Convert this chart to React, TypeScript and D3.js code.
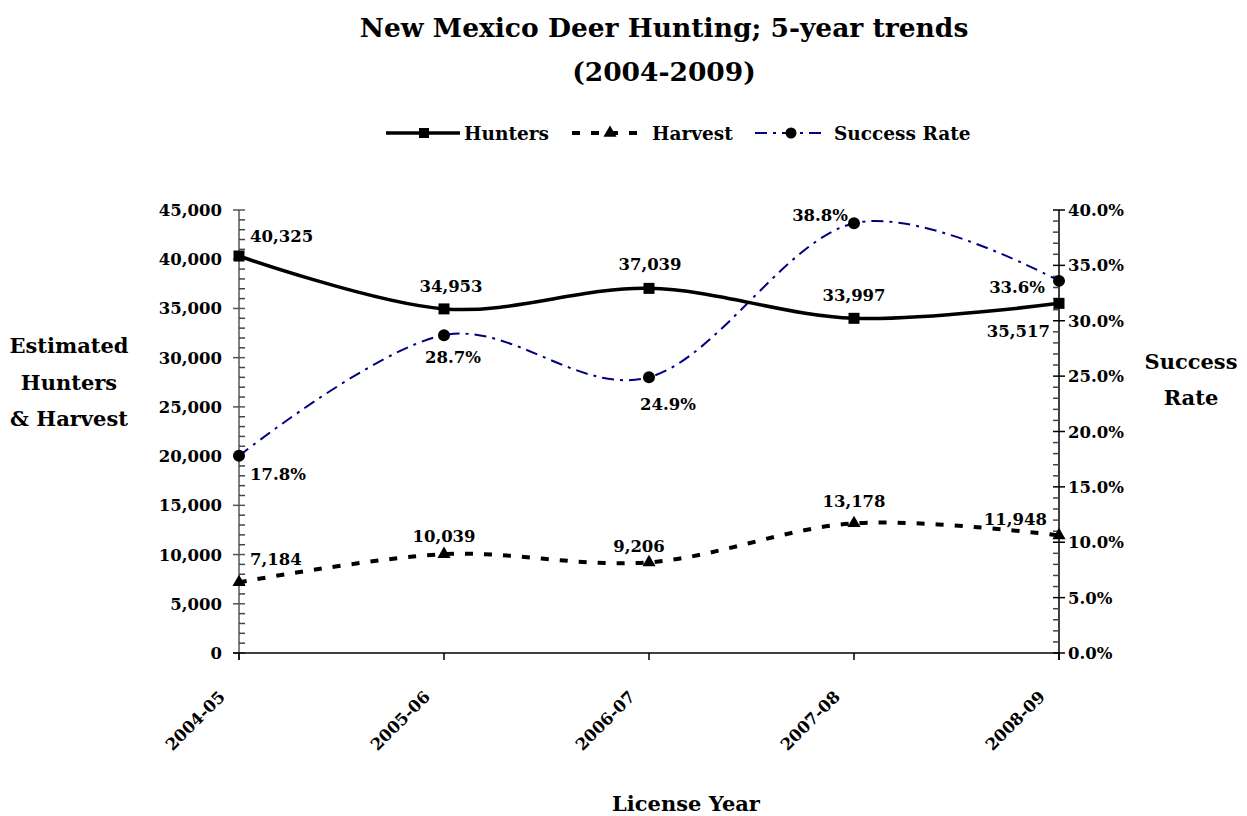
import React from "react";
import * as d3 from "d3";

const categories = ["2004-05", "2005-06", "2006-07", "2007-08", "2008-09"];
const hunters = [40325, 34953, 37039, 33997, 35517];
const harvest = [7184, 10039, 9206, 13178, 11948];
const successRate = [17.8, 28.7, 24.9, 38.8, 33.6];
const leftTicks = [0, 5000, 10000, 15000, 20000, 25000, 30000, 35000, 40000, 45000];
const rightTicks = [0, 5, 10, 15, 20, 25, 30, 35, 40];

// label offsets (layout, not data): dx, dy, anchor
const hunterLabelOff: [number, number, string][] = [
  [11, -14, "start"], [7, -17, "middle"], [1, -18, "middle"], [0, -17, "middle"], [-9, 34, "end"],
];
const harvestLabelOff: [number, number, string][] = [
  [11, -17, "start"], [0, -12, "middle"], [-10, -10, "middle"], [0, -16, "middle"], [-12, -10, "end"],
];
const successLabelOff: [number, number, string][] = [
  [11, 24, "start"], [9, 28, "middle"], [19, 33, "middle"], [-6, -2, "end"], [-14, 12, "end"],
];

const FONT = "'DejaVu Serif', 'Liberation Serif', serif";

export default function App() {
  const W = 1247, H = 816;
  const x0 = 239, x1 = 1059, yB = 653, yT = 210;
  const x = d3.scalePoint<string>().domain(categories).range([x0, x1]);
  const yL = d3.scaleLinear().domain([0, 45000]).range([yB, yT]);
  const yR = d3.scaleLinear().domain([0, 40]).range([yB, yT]);
  const fmt = d3.format(",");
  const line = (ys: number[], sc: d3.ScaleLinear<number, number>) =>
    d3.line<number>()
      .x((_, i) => x(categories[i])!)
      .y((v) => sc(v))
      .curve(d3.curveCardinal.tension(0))(ys) || "";

  const leftMinor = d3.range(0, 45001, 1000).filter((v) => v % 5000 !== 0);
  const rightMinor = d3.range(0, 40.01, 1).filter((v) => v % 5 !== 0);
  const tri = d3.symbol().type(d3.symbolTriangle).size(75)() || "";

  const tickFs = 16.5;
  const labelFs = 16.5;

  return (
    <svg width={W} height={H} style={{ position: "absolute", left: 0, top: 0, background: "#fff" }} fontFamily={FONT}>
      <rect width={W} height={H} fill="#fff" />
      {/* title */}
      <text x={664} y={37} textAnchor="middle" fontSize={26.5} fontWeight="bold">New Mexico Deer Hunting; 5-year trends</text>
      <text x={664} y={81} textAnchor="middle" fontSize={26.5} fontWeight="bold">(2004-2009)</text>

      {/* legend */}
      <g fontSize={18.5} fontWeight="bold">
        <line x1={386} x2={460} y1={133} y2={133} stroke="#000" strokeWidth={3.5} />
        <rect x={419} y={128} width={10} height={10} fill="#000" />
        <text x={464} y={140}>Hunters</text>
        <line x1={572} x2={647} y1={133} y2={133} stroke="#000" strokeWidth={4} strokeDasharray="8,11" />
        <path d={tri} transform={`translate(610,133)`} fill="#000" />
        <text x={652} y={140}>Harvest</text>
        <line x1={755} x2={822} y1={133} y2={133} stroke="#000080" strokeWidth={2} strokeDasharray="12,6,3,6" />
        <circle cx={791} cy={133} r={5.5} fill="#000" />
        <text x={834} y={140}>Success Rate</text>
      </g>

      {/* left axis */}
      <line x1={x0} x2={x0} y1={yT} y2={yB + 7} stroke="#808080" strokeWidth={2} />
      {leftTicks.map((t) => (
        <g key={"l" + t}>
          <line x1={x0 - 6} x2={x0 + 6} y1={yL(t)} y2={yL(t)} stroke="#555" strokeWidth={1.5} />
          <text x={222} y={yL(t) + 6} textAnchor="end" fontSize={tickFs} fontWeight="bold">{fmt(t)}</text>
        </g>
      ))}
      {leftMinor.map((t) => (
        <line key={"lm" + t} x1={x0} x2={x0 + 6} y1={yL(t)} y2={yL(t)} stroke="#444" strokeWidth={1.5} />
      ))}

      {/* right axis */}
      <line x1={x1} x2={x1} y1={yT} y2={yB + 7} stroke="#000" strokeWidth={1.5} />
      {rightTicks.map((t) => (
        <g key={"r" + t}>
          <line x1={x1 - 6} x2={x1 + 6} y1={yR(t)} y2={yR(t)} stroke="#000" strokeWidth={1.5} />
          <text x={1068} y={yR(t) + 6} textAnchor="start" fontSize={tickFs} fontWeight="bold">{t.toFixed(1) + "%"}</text>
        </g>
      ))}
      {rightMinor.map((t) => (
        <line key={"rm" + t} x1={x1 - 6} x2={x1} y1={yR(t)} y2={yR(t)} stroke="#444" strokeWidth={1.5} />
      ))}

      {/* x axis */}
      <line x1={x0 - 6} x2={x1} y1={yB} y2={yB} stroke="#000" strokeWidth={1.5} />
      {categories.map((c) => (
        <g key={c}>
          <line x1={x(c)} x2={x(c)} y1={yB} y2={yB + 7} stroke="#000" strokeWidth={1.5} />
          <text
            transform={`translate(${x(c)! - 13},${yB + 45}) rotate(-45)`}
            textAnchor="end"
            fontSize={tickFs}
            fontWeight="bold"
          >{c}</text>
        </g>
      ))}

      {/* axis titles */}
      <g fontSize={21} fontWeight="bold" textAnchor="middle">
        <text x={69} y={353}>Estimated</text>
        <text x={69} y={390}>Hunters</text>
        <text x={69} y={426}>&amp; Harvest</text>
        <text x={1191} y={369}>Success</text>
        <text x={1191} y={405}>Rate</text>
        <text x={686} y={811}>License Year</text>
      </g>

      {/* series */}
      <path d={line(successRate, yR)} fill="none" stroke="#000080" strokeWidth={2} strokeDasharray="12,6,3,6" />
      <path d={line(harvest, yL)} fill="none" stroke="#000" strokeWidth={4} strokeDasharray="8,11" />
      <path d={line(hunters, yL)} fill="none" stroke="#000" strokeWidth={3.5} />

      {hunters.map((v, i) => (
        <rect key={"hs" + i} x={x(categories[i])! - 5.5} y={yL(v) - 5.5} width={11} height={11} fill="#000" />
      ))}
      {harvest.map((v, i) => (
        <path key={"hv" + i} d={tri} transform={`translate(${x(categories[i])},${yL(v)})`} fill="#000" />
      ))}
      {successRate.map((v, i) => (
        <circle key={"sr" + i} cx={x(categories[i])} cy={yR(v)} r={6} fill="#000" />
      ))}

      {/* data labels */}
      <g fontSize={labelFs} fontWeight="bold">
        {hunters.map((v, i) => (
          <text key={"hl" + i} x={x(categories[i])! + hunterLabelOff[i][0]} y={yL(v) + hunterLabelOff[i][1]}
            textAnchor={hunterLabelOff[i][2]}>{fmt(v)}</text>
        ))}
        {harvest.map((v, i) => (
          <text key={"vl" + i} x={x(categories[i])! + harvestLabelOff[i][0]} y={yL(v) + harvestLabelOff[i][1]}
            textAnchor={harvestLabelOff[i][2]}>{fmt(v)}</text>
        ))}
        {successRate.map((v, i) => (
          <text key={"sl" + i} x={x(categories[i])! + successLabelOff[i][0]} y={yR(v) + successLabelOff[i][1]}
            textAnchor={successLabelOff[i][2]}>{v.toFixed(1) + "%"}</text>
        ))}
      </g>
    </svg>
  );
}
